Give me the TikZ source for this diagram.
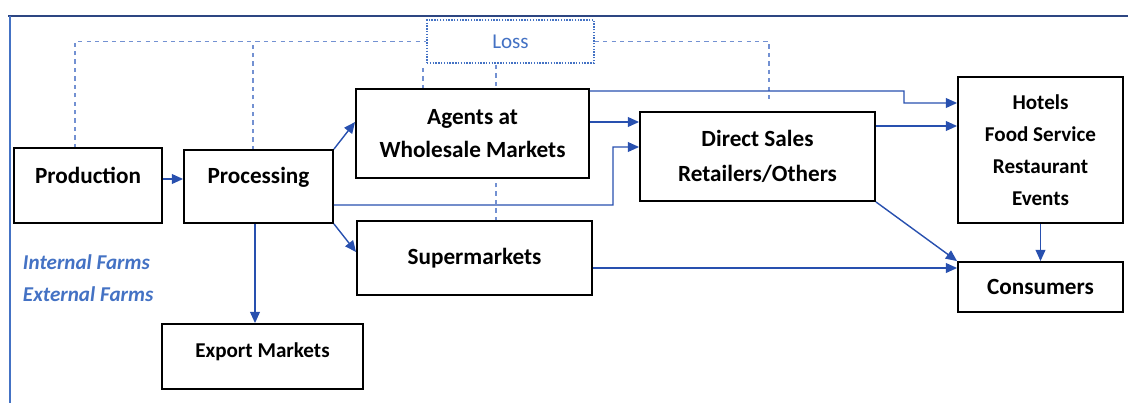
\documentclass[tikz,border=0pt]{standalone}
\usepackage{fontspec}
\setmainfont{Carlito}
\usetikzlibrary{arrows.meta, positioning}

\definecolor{flowblue}{RGB}{40,80,175}
\definecolor{lossblue}{RGB}{115,145,210}
\definecolor{textblue}{RGB}{68,114,196}
\definecolor{frametop}{RGB}{45,70,130}

\begin{document}
\begin{tikzpicture}
[
x=0.025cm, y=0.025cm,
>={Triangle[length=8pt,width=7pt]},
box/.style={draw=black, fill=white, line width=1.3pt, inner sep=0pt,
            align=center, font=\bfseries\fontsize{16.5}{23.5}\selectfont},
smallbox/.style={box, font=\bfseries\fontsize{15}{22.7}\selectfont},
lossbox/.style={draw=textblue, densely dotted, line width=1pt, fill=white,
                inner sep=0pt, text=textblue, font=\fontsize{15}{18}\selectfont},
flow/.style={->, draw=flowblue, line width=1pt},
lossline/.style={draw=lossblue, dashed, line width=0.9pt},
farm/.style={text=textblue, font=\bfseries\itshape\fontsize{15}{18}\selectfont}
]

    \useasboundingbox (0,0) rectangle (1128,-403);
    \draw[frametop, line width=1.2pt] (8,-16) -- (1128,-16);
    \draw[textblue, line width=1pt] (10,-16) -- (10,-403);

    % losses first, so the boxes sit on top
    \coordinate (lossleft) at (75,-148);
    \coordinate (lossproc) at (253,-150);
    \coordinate (lossmid) at (423,-89);
    \coordinate (lossdown) at (496,-221);
    \coordinate (lossright) at (769,-100);

    \node[lossbox, minimum width=4.175cm, minimum height=1.075cm] (loss) at (510.5,-41.5) {Loss};
    \draw[lossline] (lossleft) |- (loss.west);
    \draw[lossline] (lossproc) -- (lossproc |- loss.west);
    \draw[lossline] (lossmid) -- (lossmid |- loss.south);
    \draw[lossline] (lossdown) -- (lossdown |- loss.south);
    \draw[lossline] (loss.east) -| (lossright);

    \node[box, minimum width=3.7cm, minimum height=1.875cm,
          text height=0.4cm, text depth=0.525cm] (prod) at (88,-185.5) {Production};
    \node[box, minimum width=3.725cm, minimum height=1.825cm,
          text height=0.4cm, text depth=0.575cm] (proc) at (258.5,-186.5) {Processing};
    \node[box, minimum width=5.825cm, minimum height=2.225cm] (agents) at (472.5,-133.5) {Agents at\\Wholesale Markets};
    \node[box, minimum width=5.875cm, minimum height=1.85cm] (super) at (474.5,-258) {Supermarkets};
    \node[box, minimum width=5.875cm, minimum height=2.225cm,
          font=\bfseries\fontsize{16.5}{24.5}\selectfont] (direct) at (757.5,-156.5) {Direct Sales\\Retailers/Others};
    \node[smallbox, minimum width=4.125cm, minimum height=3.65cm] (hotels) at (1040.5,-150)
          {Hotels\\Food Service\\Restaurant\\Events};
    \node[box, minimum width=4.125cm, minimum height=1.25cm] (cons) at (1040.5,-287) {Consumers};
    \node[smallbox, minimum width=5.025cm, minimum height=1.625cm,
          text height=0.4cm, text depth=0.375cm] (export) at (262.5,-356.5) {Export Markets};

    \node[farm, anchor=west] (internal) at (18,-262) {Internal Farms};
    \node[farm, anchor=west] (external) at (18,-294) {External Farms};

    \draw[flow] ([yshift=0.1625cm]prod.east) -- ([yshift=0.1625cm]prod.east -| proc.west);
    \draw[flow] (proc.north east) -- ([yshift=0.2875cm]agents.west);
    \draw[flow] (proc.south east) -- ([yshift=0.15cm]super.west);
    \draw[flow] ([xshift=-0.0875cm]proc.south) -- ([xshift=-0.0875cm]proc.south |- export.north);
    \draw[flow] ([yshift=-0.4625cm]proc.east) -| (613,-147) -- ([yshift=0.2375cm]direct.west);
    \draw[flow] ([yshift=0.2875cm]agents.east) -- ([yshift=0.2875cm]agents.east -| direct.west);
    \draw[flow] ([yshift=1.0625cm]agents.east) -| (904,-103) -- ([yshift=1.175cm]hotels.west);
    \draw[flow] ([yshift=0.7625cm]direct.east) -- ([yshift=0.7625cm]direct.east -| hotels.west);
    \draw[flow] (direct.south east) -- (cons.north west);
    \draw[flow] ([yshift=-0.25cm]super.east) -- ([yshift=-0.25cm]super.east -| cons.west);
    \draw[flow] (hotels.south) -- (cons.north);
\end{tikzpicture}
\end{document}
